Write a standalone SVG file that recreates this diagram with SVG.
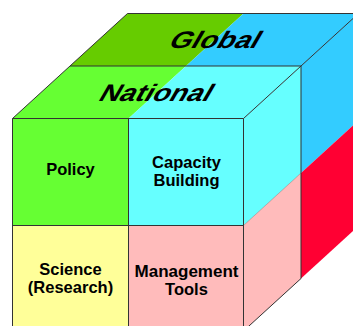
<svg xmlns="http://www.w3.org/2000/svg" width="353" height="326" viewBox="0 0 353 326">
<style>
.edge{fill:none;stroke:#333;stroke-width:1}
.faint{fill:none;stroke:#555;stroke-width:0.6;stroke-opacity:0.6}
.lbl{font-family:"Liberation Sans",Arial,sans-serif;font-weight:bold;font-size:16.5px;fill:#000;text-anchor:middle}
.big{font-family:"Liberation Sans",Arial,sans-serif;font-weight:bold;font-size:24px;fill:#000}
</style>
<rect width="353" height="326" fill="#fff"/>
<g id="global">
<polygon points="70,66 186,66 243.5,13.5 127.5,13.5" fill="#66CC00"/>
<polygon points="186,66 301,66 358.5,13.5 243.5,13.5" fill="#33CCFF"/>
<text class="big" transform="translate(167,47.5) skewX(-30)" x="0" y="0" textLength="89" lengthAdjust="spacingAndGlyphs">Global</text>
</g>
<g id="national">
<polygon points="12.5,118.5 128.5,118.5 186,66 70,66" fill="#66FF33"/>
<polygon points="128.5,118.5 243.5,118.5 301,66 186,66" fill="#66FFFF"/>
<text class="big" transform="translate(97,101) skewX(-30)" x="0" y="0" textLength="111" lengthAdjust="spacingAndGlyphs">National</text>
</g>
<g id="right-face">
<polygon points="243.5,118.5 301,66 301,173 243.5,225.5" fill="#66FFFF"/>
<polygon points="243.5,225.5 301,173 301,278.5 243.5,331" fill="#FFBBBB"/>
<polygon points="301,66 358.5,13.5 358.5,120.5 301,173" fill="#33CCFF"/>
<polygon points="301,173 358.5,120.5 358.5,226 301,278.5" fill="#FF0033"/>
</g>
<g id="policy">
<rect x="12.5" y="118.5" width="116" height="107" fill="#66FF33"/>
<text class="lbl" x="70.5" y="175">Policy</text>
</g>
<g id="capacity-building">
<rect x="128.5" y="118.5" width="115" height="107" fill="#66FFFF"/>
<text class="lbl" x="186.5" y="168">Capacity</text>
<text class="lbl" x="186.5" y="186">Building</text>
</g>
<g id="science">
<rect x="12.5" y="225.5" width="116" height="106" fill="#FFFF99"/>
<text class="lbl" x="70.5" y="275">Science</text>
<text class="lbl" x="70.5" y="293">(Research)</text>
</g>
<g id="management-tools">
<rect x="128.5" y="225.5" width="115" height="106" fill="#FFBBBB"/>
<text class="lbl" x="186.5" y="277" textLength="104" lengthAdjust="spacingAndGlyphs">Management</text>
<text class="lbl" x="186.5" y="294.5">Tools</text>
</g>
<g id="edges">
<polyline class="edge" points="12.5,331 12.5,118.5 127.5,13.5 358.5,13.5"/>
<line class="edge" x1="12.5" y1="118.5" x2="243.5" y2="118.5"/>
<line class="edge" x1="70" y1="66" x2="301" y2="66"/>
<line class="edge" x1="301" y1="66" x2="358.5" y2="13.5"/>
<line class="edge" x1="243.5" y1="118.5" x2="301" y2="66"/>
<line class="edge" x1="243.5" y1="118.5" x2="243.5" y2="331"/>
<line class="edge" x1="128.5" y1="118.5" x2="128.5" y2="331"/>
<line class="edge" x1="12.5" y1="225.5" x2="243.5" y2="225.5"/>
<line class="edge" x1="301" y1="66" x2="301" y2="278.5"/>
<line class="edge" x1="243.5" y1="331" x2="301" y2="278.5"/>
<line class="faint" x1="243.5" y1="225.5" x2="301" y2="173"/>
</g>
</svg>
